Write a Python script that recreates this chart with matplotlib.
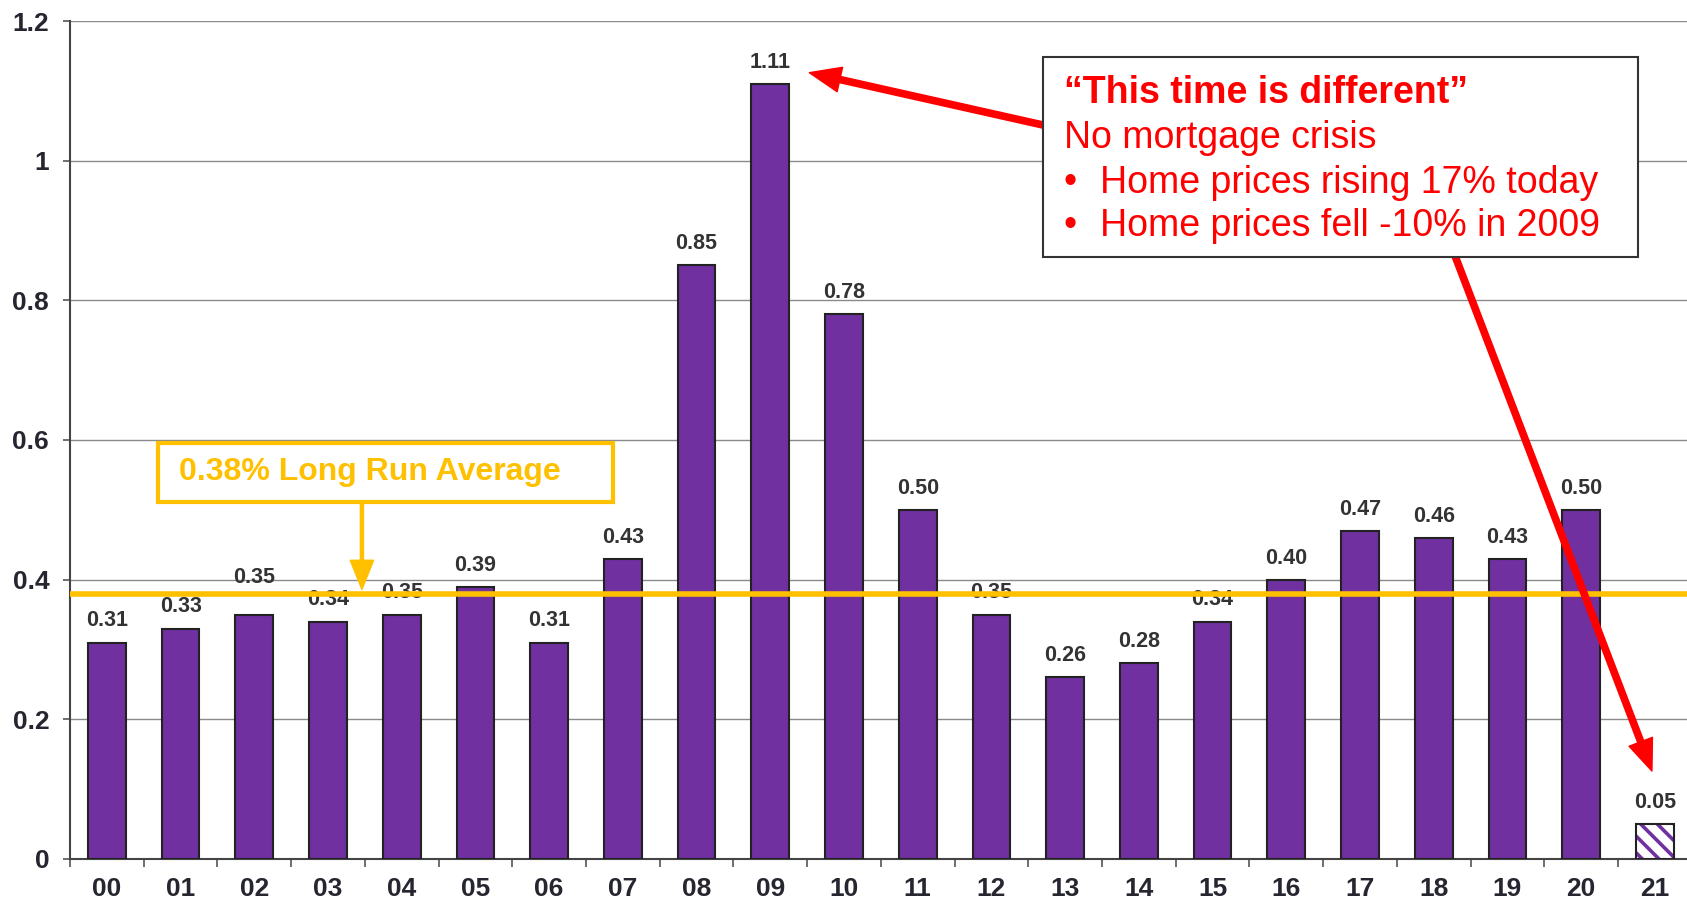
import numpy as np
import matplotlib
matplotlib.use("Agg")
import matplotlib.pyplot as plt
from matplotlib.patches import Rectangle

# Data
years = ["00", "01", "02", "03", "04", "05", "06", "07", "08", "09", "10",
         "11", "12", "13", "14", "15", "16", "17", "18", "19", "20", "21"]
values = [0.31, 0.33, 0.35, 0.34, 0.35, 0.39, 0.31, 0.43, 0.85, 1.11, 0.78,
          0.50, 0.35, 0.26, 0.28, 0.34, 0.40, 0.47, 0.46, 0.43, 0.50, 0.05]
long_run_avg = 0.38
partial_year = "21"

avg_text = "0.38% Long Run Average"
box_title = "\u201cThis time is different\u201d"
box_lines = ["No mortgage crisis",
             "Home prices rising 17% today",
             "Home prices fell -10% in 2009"]

PURPLE = "#7030A0"
ORANGE = "#FFC000"
RED = "#FF0000"
DARK = "#262630"

plt.rcParams["font.family"] = ["Liberation Sans", "DejaVu Sans"]
plt.rcParams["hatch.linewidth"] = 2.6

fig = plt.figure(figsize=(16.87, 9.02), dpi=100)
ax = fig.add_axes([0.0415, 0.0477, 0.9613, 0.9290])

x = np.arange(len(years))
for i, (yr, v) in enumerate(zip(years, values)):
    if yr == partial_year:
        ax.bar(i, v, width=0.51, color="white", edgecolor=PURPLE,
               hatch="\\\\", linewidth=0, zorder=3)
        ax.bar(i, v, width=0.51, color="none", edgecolor="#222222",
               linewidth=1.5, zorder=3)
    else:
        ax.bar(i, v, width=0.51, color=PURPLE, edgecolor="#222222",
               linewidth=1.5, zorder=3)

# value labels (02 sits a bit higher in the original)
nudge = {"02": 11}
for i, (yr, v) in enumerate(zip(years, values)):
    ax.annotate(f"{v:.2f}", (i, v), xytext=(0, 8 + nudge.get(yr, 0)),
                textcoords="offset points", ha="center", va="bottom",
                fontsize=15.5, fontweight="bold", color="#333333", zorder=3)

ax.axhline(long_run_avg, color=ORANGE, linewidth=4, zorder=4)

ax.set_xlim(-0.5, len(years) - 0.5)
ax.set_ylim(0, 1.2)
ax.set_yticks([0, 0.2, 0.4, 0.6, 0.8, 1.0, 1.2])
ax.set_yticklabels(["0", "0.2", "0.4", "0.6", "0.8", "1", "1.2"])
ax.set_xticks(x)
ax.set_xticklabels(years)
ax.set_xticks(np.arange(len(years) + 1) - 0.5, minor=True)
ax.tick_params(axis="x", which="major", length=0, pad=13)
ax.tick_params(axis="x", which="minor", length=6, width=1.2, color="#555555")
ax.tick_params(axis="y", length=5, width=1.2, color="#555555", pad=10)
for lab in ax.get_xticklabels() + ax.get_yticklabels():
    lab.set_fontsize(19)
    lab.set_fontweight("bold")
    lab.set_color(DARK)

ax.grid(axis="y", color="#8a8a8a", linewidth=1, zorder=0)
ax.set_axisbelow(True)
for side in ["top", "right"]:
    ax.spines[side].set_visible(False)
for side in ["left", "bottom"]:
    ax.spines[side].set_color("#444444")
    ax.spines[side].set_linewidth(1.5)

# long run average callout
ax.add_patch(Rectangle((0.0543, 0.426), 0.2805, 0.0704, transform=ax.transAxes,
                       facecolor="white", edgecolor=ORANGE, linewidth=3,
                       zorder=5))
ax.text(0.0672, 0.4615, avg_text, transform=ax.transAxes, ha="left",
        va="center", fontsize=23, fontweight="bold", color=ORANGE, zorder=6)
ax.annotate("", xy=(0.180, (long_run_avg + 0.006) / 1.2),
            xytext=(0.180, 0.426), xycoords="axes fraction",
            arrowprops=dict(arrowstyle="simple,head_length=1.5,head_width=1.2,tail_width=0.16",
                            mutation_scale=14, color=ORANGE, shrinkA=0, shrinkB=0),
            zorder=5)

# red arrows and text box
i09 = years.index("09")
i21 = years.index(partial_year)
ax.annotate("", xy=(i09 + 0.53, values[i09] + 0.016), xycoords="data",
            xytext=(0.602, 0.875), textcoords="axes fraction",
            arrowprops=dict(arrowstyle="simple,head_length=1.5,head_width=1.2,tail_width=0.3",
                            mutation_scale=15, color=RED, shrinkA=0, shrinkB=0),
            zorder=6)
ax.annotate("", xy=(i21 - 0.04, values[i21] + 0.076), xycoords="data",
            xytext=(0.854, 0.72), textcoords="axes fraction",
            arrowprops=dict(arrowstyle="simple,head_length=1.5,head_width=1.2,tail_width=0.3",
                            mutation_scale=15, color=RED, shrinkA=0, shrinkB=0),
            zorder=6)

ax.add_patch(Rectangle((0.600, 0.7184), 0.3669, 0.2387, transform=ax.transAxes,
                       facecolor="white", edgecolor="#333333", linewidth=1.5,
                       zorder=7))
ax.text(0.6129, 0.9020, box_title, transform=ax.transAxes, ha="left",
        va="baseline", fontsize=27, fontweight="bold", color=RED, zorder=8)
ax.text(0.6129, 0.8480, box_lines[0], transform=ax.transAxes, ha="left",
        va="baseline", fontsize=27, color=RED, zorder=8)
for yy, line in zip([0.7945, 0.7430], box_lines[1:]):
    ax.text(0.6129, yy, "\u2022", transform=ax.transAxes, ha="left",
            va="baseline", fontsize=27, color=RED, zorder=8)
    ax.text(0.6351, yy, line, transform=ax.transAxes, ha="left",
            va="baseline", fontsize=27, color=RED, zorder=8)

fig.savefig("out.png", dpi=100)
